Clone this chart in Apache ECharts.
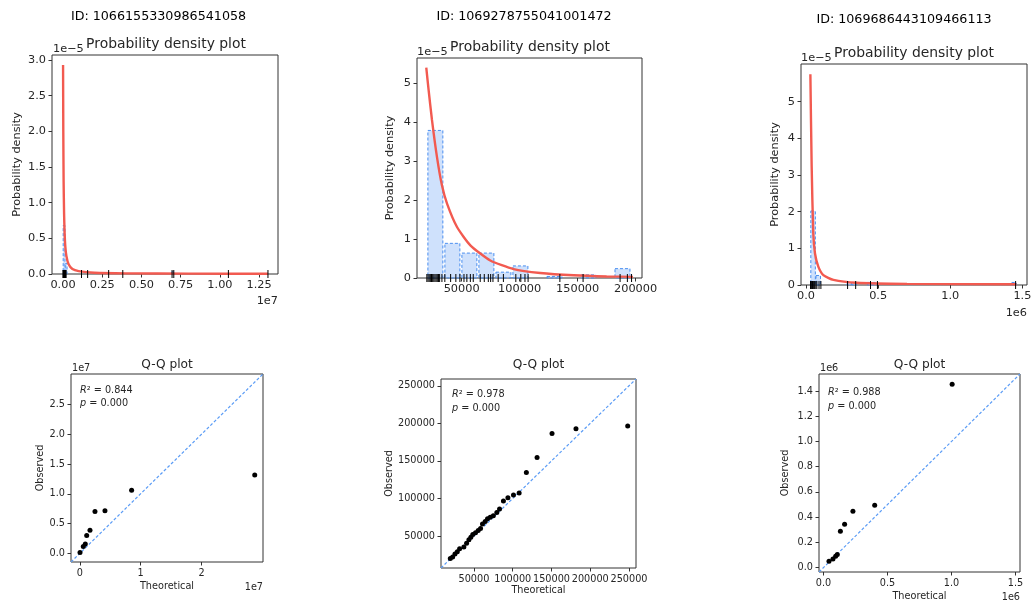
<!DOCTYPE html>
<html><head><meta charset="utf-8">
<script src="https://cdn.jsdelivr.net/npm/echarts@6/dist/echarts.min.js"></script>
<style>html,body{margin:0;padding:0;background:#fff}#c{width:1031px;height:603px}</style>
</head><body><div id="c"></div>
<script>
// ---------- data ----------
const ids = ['ID: 1066155330986541058', 'ID: 1069278755041001472', 'ID: 1069686443109466113'];

// Panel 1 (ID ...058) density plot
const p1CurveX = [5000, 20000, 40000, 70000, 100000, 150000, 220000, 350000, 600000, 1000000, 2000000, 4000000, 8000000, 13060000];
const p1CurveY = [2.93e-5, 2.0e-5, 1.3e-5, 0.85e-5, 0.6e-5, 0.38e-5, 0.25e-5, 0.14e-5, 0.07e-5, 0.04e-5, 0.018e-5, 0.009e-5, 0.005e-5, 0.003e-5];
const p1BinLeft = [5000, 135500, 6925000];
const p1BinWidth = 130500;
const p1BinHeight = [0.68e-5, 0.15e-5, 0.03e-5];
const p1Rug = [8000, 15000, 25000, 35000, 50000, 65000, 80000, 100000, 130000, 160000, 200000, 1180000, 1570000, 2910000, 3810000, 6950000, 7060000, 10540000, 13060000];
const p1XTicks = [0, 2500000, 5000000, 7500000, 10000000, 12500000];
const p1YTicks = [0, 0.5e-5, 1.0e-5, 1.5e-5, 2.0e-5, 2.5e-5, 3.0e-5];

// Panel 2 (ID ...472) density plot
const p2CurveX = [19500, 21500, 24400, 28700, 33000, 37400, 46000, 57500, 74700, 94800, 117800, 146600, 175000, 197700];
const p2CurveY = [5.40e-5, 4.83e-5, 4.06e-5, 3.11e-5, 2.38e-5, 1.91e-5, 1.31e-5, 0.84e-5, 0.45e-5, 0.23e-5, 0.13e-5, 0.07e-5, 0.04e-5, 0.03e-5];
const p2BinLeft = [20000, 34670, 49330, 64000, 78670, 93330, 108000, 122670, 137330, 152000, 166670, 181330];
const p2BinWidth = 14670;
const p2BinHeight = [3.79e-5, 0.89e-5, 0.64e-5, 0.64e-5, 0.15e-5, 0.31e-5, 0, 0.04e-5, 0, 0.08e-5, 0, 0.24e-5];
const p2Rug = [20000, 21000, 22000, 23000, 24000, 25000, 26000, 27000, 28000, 29000, 30000, 31000, 33000, 35500, 40500, 45000, 48500, 52000, 54500, 57500, 60000, 66000, 69500, 73000, 75000, 77000, 81500, 86000, 96700, 101000, 104600, 107300, 134700, 154700, 186600, 192900, 196500];
const p2XTicks = [50000, 100000, 150000, 200000];
const p2YTicks = [0, 1e-5, 2e-5, 3e-5, 4e-5, 5e-5];

// Panel 3 (ID ...113) density plot
const p3CurveX = [30000, 39000, 50000, 62000, 85000, 120000, 190000, 350000, 700000, 1459000];
const p3CurveY = [5.75e-5, 3.23e-5, 1.41e-5, 0.86e-5, 0.50e-5, 0.27e-5, 0.14e-5, 0.06e-5, 0.03e-5, 0.02e-5];
const p3BinLeft = [31000, 66700, 280900, 316600, 423700, 459400, 1423300];
const p3BinWidth = 35700;
const p3BinHeight = [2.02e-5, 0.26e-5, 0.07e-5, 0.07e-5, 0.07e-5, 0.07e-5, 0.07e-5];
const p3Rug = [31000, 36000, 40000, 45000, 50000, 55000, 60000, 68000, 75000, 90000, 103000, 288000, 344000, 447000, 495000, 1453000];
const p3XTicks = [0, 500000, 1000000, 1500000];
const p3YTicks = [0, 1e-5, 2e-5, 3e-5, 4e-5, 5e-5];

// Q-Q plots
const q1Theo = [30000, 570000, 900000, 1130000, 1670000, 2490000, 4130000, 8510000, 28740000];
const q1Obs = [130000, 1140000, 1580000, 3000000, 3880000, 7030000, 7130000, 10600000, 13130000];
const q1Stats = ['0.844', '0.000'];
const q1Ticks = [0, 10000000, 20000000];
const q1YTicks = [0, 5000000, 10000000, 15000000, 20000000, 25000000];

const q2Theo = [19500, 22500, 25500, 28500, 31500, 37000, 40500, 43500, 46000, 48500, 52000, 55500, 58500, 61000, 64500, 67500, 71000, 75000, 79500, 83000, 88000, 93800, 101000, 108300, 117600, 131400, 150700, 181600, 248300];
const q2Obs = [20000, 22000, 26000, 29000, 33000, 35500, 40500, 45000, 48500, 52000, 54500, 57500, 60000, 66000, 69500, 73000, 75000, 77000, 81500, 86000, 96700, 101000, 104600, 107300, 134700, 154700, 186600, 192900, 196500];
const q2Stats = ['0.978', '0.000'];
const q2Ticks = [50000, 100000, 150000, 200000, 250000];

const q3Theo = [43000, 74000, 95000, 108000, 132000, 165000, 230000, 400000, 1005000];
const q3Obs = [50000, 68000, 90000, 103000, 288000, 344000, 447000, 495000, 1453000];
const q3Stats = ['0.988', '0.000'];
const q3XTicks = [0, 500000, 1000000, 1500000];
const q3YTicks = [0, 200000, 400000, 600000, 800000, 1000000, 1200000, 1400000];

// ---------- chart ----------
const FONT = 'DejaVu Sans';
const TXT = '#262626';
const RED = '#f25a50';
const chart = echarts.init(document.getElementById('c'));

const grids = [
  {left: 52, top: 55, width: 226, height: 219},
  {left: 417, top: 58, width: 225, height: 220},
  {left: 801, top: 64, width: 226, height: 221},
  {left: 71, top: 374, width: 192, height: 188},
  {left: 441, top: 379, width: 195, height: 189},
  {left: 819, top: 374, width: 201, height: 198}
].map(g => Object.assign({show: true, borderColor: '#333', borderWidth: 1, backgroundColor: 'rgba(0,0,0,0)', outerBoundsMode: 'none'}, g));

function ax(gi, min, max, ticks, fmt, fs, extra) {
  return Object.assign({
    gridIndex: gi, type: 'value', min: min, max: max,
    axisLine: {show: false, onZero: false}, splitLine: {show: false},
    axisTick: {show: true, inside: false, length: 3.5, lineStyle: {color: '#333', width: 1}, customValues: ticks},
    axisLabel: {show: true, customValues: ticks, formatter: fmt, fontSize: fs, color: TXT, fontFamily: FONT, margin: 6, hideOverlap: false}
  }, extra || {});
}
const f = (div, d) => v => (v / div).toFixed(d);
const nm = (name, gap, fs) => ({name: name, nameLocation: 'middle', nameGap: gap, nameTextStyle: {fontSize: fs, color: TXT, fontFamily: FONT}});

const xAxes = [
  ax(0, -700000, 13700000, p1XTicks, f(1e7, 2), 11.3),
  ax(1, 11500, 205500, p2XTicks, v => String(v), 11.3),
  ax(2, -35000, 1532000, p3XTicks, f(1e6, 1), 11.3),
  ax(3, -1450000, 30100000, q1Ticks, f(1e7, 0), 9.7, nm('Theoretical', 19, 9.7)),
  ax(4, 7500, 259000, q2Ticks, v => String(v), 9.7, nm('Theoretical', 17, 9.7)),
  ax(5, -35000, 1535000, q3XTicks, f(1e6, 1), 9.7, nm('Theoretical', 19, 9.7))
];
const yAxes = [
  ax(0, 0, 3.07e-5, p1YTicks, f(1e-5, 1), 11.3, nm('Probability density', 29, 11.3)),
  ax(1, 0, 5.65e-5, p2YTicks, f(1e-5, 0), 11.3, nm('Probability density', 21, 11.3)),
  ax(2, 0, 6.03e-5, p3YTicks, f(1e-5, 0), 11.3, nm('Probability density', 20, 11.3)),
  ax(3, -1450000, 30100000, q1YTicks, f(1e7, 1), 9.7, nm('Observed', 26, 9.7)),
  ax(4, 7500, 259000, q2Ticks, v => String(v), 9.7, nm('Observed', 47, 9.7)),
  ax(5, -35000, 1535000, q3YTicks, f(1e6, 1), 9.7, nm('Observed', 29, 9.7))
];

function hist(i, lefts, width, heights) {
  const data = [];
  lefts.forEach((l, k) => { if (heights[k] > 0) data.push([l, l + width, heights[k]]); });
  return {
    type: 'custom', xAxisIndex: i, yAxisIndex: i, z: 2, data: data,
    encode: {x: [0, 1], y: 2},
    renderItem: function (params, api) {
      const a = api.value(0), b = api.value(1), w = b - a;
      const p0 = api.coord([a + w * 0.06, api.value(2)]);
      const p1 = api.coord([b - w * 0.06, 0]);
      return {type: 'rect', shape: {x: p0[0], y: p0[1], width: Math.max(1, p1[0] - p0[0]), height: p1[1] - p0[1]},
        style: {fill: 'rgba(160,196,250,0.5)', stroke: '#4a8ff0', lineWidth: 1, lineDash: [3, 2]}};
    }
  };
}
function curve(i, xs, ys) {
  return {type: 'line', xAxisIndex: i, yAxisIndex: i, z: 3, data: xs.map((x, k) => [x, ys[k]]),
    showSymbol: false, smooth: 0.2, lineStyle: {color: RED, width: 2.4}, itemStyle: {color: RED}};
}
function rug(i, xs) {
  return {type: 'custom', xAxisIndex: i, yAxisIndex: i, z: 4, data: xs.map(x => [x, 0]),
    encode: {x: 0, y: 1},
    renderItem: function (params, api) {
      const p = api.coord([api.value(0), 0]);
      return {type: 'line', shape: {x1: p[0], y1: p[1] - 4, x2: p[0], y2: p[1] + 4}, style: {stroke: '#000', lineWidth: 1}};
    }
  };
}
function qq(i, xs, ys) {
  return {type: 'scatter', xAxisIndex: i, yAxisIndex: i, z: 4, data: xs.map((x, k) => [x, ys[k]]),
    symbolSize: 5, itemStyle: {color: '#000', opacity: 1}};
}
function diag(i) {
  const a = xAxes[i].min, b = xAxes[i].max;
  return {type: 'line', xAxisIndex: i, yAxisIndex: i, z: 3, data: [[a, a], [b, b]], showSymbol: false,
    lineStyle: {color: '#5b9cf6', width: 1.2, type: [3, 2]}};
}

function t(x, y, s, fs, align, color) {
  return {type: 'text', x: x, y: y, z: 10,
    style: {text: s, font: fs + 'px "' + FONT + '"', fill: color || TXT, align: align || 'center', verticalAlign: 'middle'}};
}
function stat(x, y, label, val, fs) {
  return {type: 'text', x: x, y: y, z: 10, style: {
    text: '{i|' + label + '}' + (label === 'R' ? '² = ' : ' = ') + val,
    font: fs + 'px "' + FONT + '"', fill: TXT, align: 'left', verticalAlign: 'middle',
    rich: {i: {fontStyle: 'italic', fontSize: fs, fontFamily: FONT, fill: TXT}}}};
}

const graphics = [
  t(158.5, 17, ids[0], 12.7, 'center', '#000'),
  t(524, 17, ids[1], 12.7, 'center', '#000'),
  t(904, 19.5, ids[2], 12.7, 'center', '#000'),
  t(166, 44, 'Probability density plot', 13.9),
  t(530, 47, 'Probability density plot', 13.9),
  t(914, 53, 'Probability density plot', 13.9),
  t(53, 49.5, '1e\u22125', 11.3, 'left'),
  t(417, 52.5, '1e\u22125', 11.3, 'left'),
  t(801, 58, '1e\u22125', 11.3, 'left'),
  t(278, 301, '1e7', 11.3, 'right'),
  t(1027, 313, '1e6', 11.3, 'right'),
  t(167, 365, 'Q-Q plot', 12.2),
  t(538.5, 365, 'Q-Q plot', 12.2),
  t(919.5, 365, 'Q-Q plot', 12.2),
  t(72, 368, '1e7', 9.7, 'left'),
  t(820, 368, '1e6', 9.7, 'left'),
  t(263, 587, '1e7', 9.7, 'right'),
  t(1020, 597, '1e6', 9.7, 'right'),
  stat(80, 390, 'R', q1Stats[0], 9.7), stat(80, 403.5, 'p', q1Stats[1], 9.7),
  stat(452, 394.5, 'R', q2Stats[0], 9.7), stat(452, 408.5, 'p', q2Stats[1], 9.7),
  stat(828, 392, 'R', q3Stats[0], 9.7), stat(828, 406, 'p', q3Stats[1], 9.7)
];

chart.setOption({
  animation: false,
  backgroundColor: '#fff',
  grid: grids,
  xAxis: xAxes,
  yAxis: yAxes,
  graphic: graphics,
  series: [
    hist(0, p1BinLeft, p1BinWidth, p1BinHeight), curve(0, p1CurveX, p1CurveY), rug(0, p1Rug),
    hist(1, p2BinLeft, p2BinWidth, p2BinHeight), curve(1, p2CurveX, p2CurveY), rug(1, p2Rug),
    hist(2, p3BinLeft, p3BinWidth, p3BinHeight), curve(2, p3CurveX, p3CurveY), rug(2, p3Rug),
    diag(3), qq(3, q1Theo, q1Obs),
    diag(4), qq(4, q2Theo, q2Obs),
    diag(5), qq(5, q3Theo, q3Obs)
  ]
});
</script></body></html>
